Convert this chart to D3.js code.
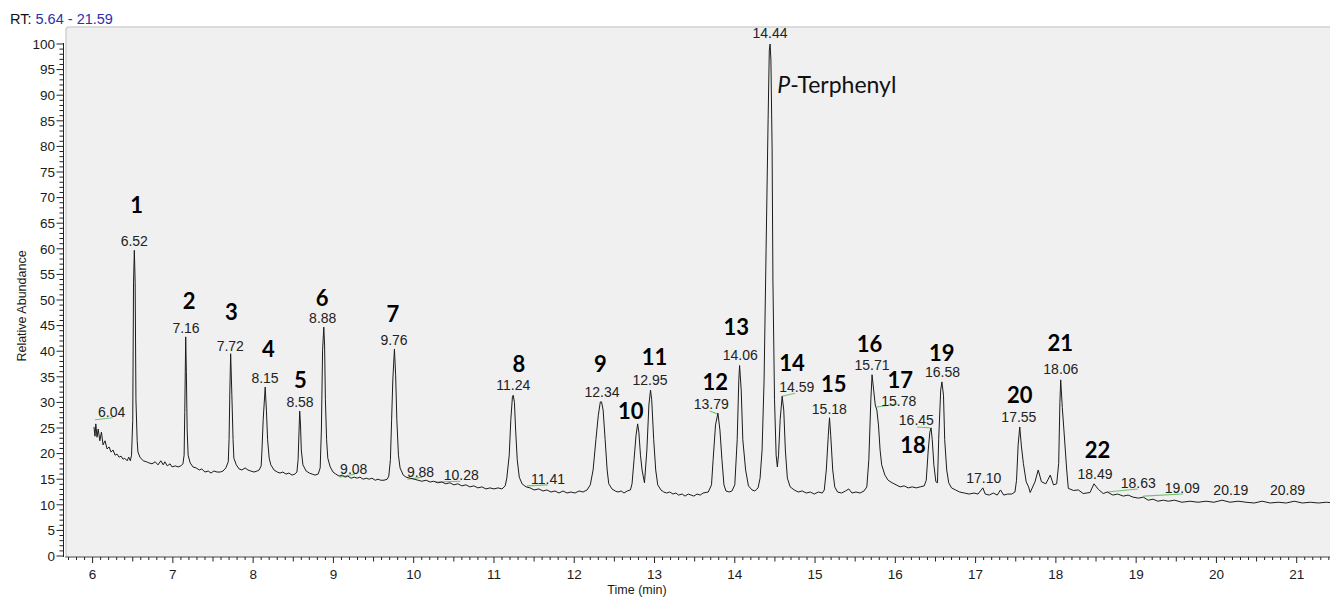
<!DOCTYPE html>
<html><head><meta charset="utf-8">
<script src="https://cdn.jsdelivr.net/npm/d3@7"></script>
<style>
html,body{margin:0;padding:0;background:#fff;}
svg{display:block;}
text{font-family:"Liberation Sans",Arial,sans-serif;}
</style></head>
<body>
<svg id="chart" width="1330" height="598"></svg>
<script>
// ---- data ----
const rtRange = "5.64 - 21.59";
const xTickLabels = [6,7,8,9,10,11,12,13,14,15,16,17,18,19,20,21];
const yTickLabels = [0,5,10,15,20,25,30,35,40,45,50,55,60,65,70,75,80,85,90,95,100];
const xTitle = "Time (min)";
const yTitle = "Relative Abundance";

// chromatogram trace [time (min), relative abundance]
const trace = [
[6.017,25.2],[6.03,23.4],[6.04,25.8],[6.055,23.2],[6.07,24.8],[6.09,22.5],[6.11,24.2],[6.13,21.7],[6.155,22.5],[6.18,20.9],[6.205,21.3],[6.23,20.3],[6.255,20.7],[6.28,19.7],[6.305,19.9],[6.33,19.3],[6.355,19.5],[6.38,18.9],[6.40,19.1],[6.43,18.6],[6.45,19.3],[6.47,18.6],[6.485,19.7],
[6.50,26.5],[6.51,53.5],[6.52,59.7],[6.53,53.5],[6.535,42],[6.54,30.5],[6.555,22.6],[6.565,20.3],[6.59,19.3],[6.63,18.6],[6.67,18.4],[6.70,18.2],[6.74,18.0],[6.78,18.4],[6.815,17.8],[6.85,18.6],[6.88,17.8],[6.90,18.4],[6.93,17.6],[6.965,18.0],[6.99,17.4],[7.03,17.6],[7.065,17.4],[7.10,17.6],[7.125,18],[7.14,19.7],
[7.148,28],[7.16,42.8],[7.168,36],[7.178,24.6],[7.19,19.7],[7.215,18.2],[7.25,17.4],[7.29,17.2],[7.33,16.8],[7.36,17],[7.40,16.4],[7.44,16.6],[7.475,16.2],[7.51,16.6],[7.55,16.4],[7.59,16.4],[7.625,16.6],[7.66,17.2],[7.69,18.4],[7.70,22.7],[7.71,32.4],[7.72,39.5],[7.735,31.4],[7.75,22.7],[7.76,19.1],[7.79,17.8],[7.825,17],[7.86,16.8],[7.90,17.2],[7.935,16.8],[7.97,16.6],[8.01,16.4],[8.05,16.6],[8.075,16.8],[8.10,17.6],[8.11,20.7],[8.125,26.6],[8.15,33.0],[8.165,28.5],[8.18,22.7],[8.20,19.1],[8.22,17.8],[8.26,16.8],[8.30,16.4],[8.335,16.2],[8.37,16.4],[8.41,16.0],[8.445,16.2],[8.485,15.8],[8.52,16],[8.545,16.4],[8.56,18.8],[8.572,24.6],[8.58,28.3],[8.59,25.6],[8.60,20.7],[8.62,17.8],[8.66,16.6],[8.70,16.2],[8.735,16],[8.77,15.8],[8.81,16],[8.835,17.2],[8.85,24.6],[8.865,40.2],[8.88,44.7],[8.89,41.2],[8.90,30.5],[8.915,22.7],[8.93,19.1],[8.96,17.4],[8.995,16.4],[9.03,16],[9.07,15.6],[9.11,15.8],[9.145,15.4],[9.18,15.6],[9.22,15.2],[9.26,15.4],[9.295,15.2],[9.33,15.4],[9.37,15],[9.41,15.2],[9.445,15],[9.48,15.2],[9.52,14.8],[9.555,15],[9.59,14.8],[9.63,14.8],[9.67,15],[9.69,15.6],[9.71,18.8],[9.725,26.6],[9.74,34.4],[9.76,40.4],[9.775,35.4],[9.79,26.6],[9.81,19.7],[9.83,17.2],[9.87,15.8],[9.905,15.4],[9.955,15.2],[10.005,15],[10.055,14.8],[10.10,14.6],[10.155,14.8],[10.205,14.45],[10.25,14.6],[10.30,14.3],[10.35,14.45],[10.40,14.1],[10.45,14.3],[10.50,13.9],[10.55,14.1],[10.60,13.7],[10.65,13.9],[10.70,13.5],[10.75,13.7],[10.80,13.3],[10.85,13.5],[10.90,13.1],[10.95,13.3],[11.00,13.1],[11.05,13.3],[11.10,13.1],[11.14,13.7],[11.16,15.2],[11.19,19.7],[11.21,26.6],[11.23,31.1],[11.24,31.4],[11.255,30],[11.27,24.6],[11.29,18.8],[11.315,15.4],[11.35,14.1],[11.40,13.5],[11.45,13.3],[11.50,12.9],[11.56,13.1],[11.61,12.7],[11.66,12.9],[11.71,12.5],[11.76,12.7],[11.81,12.3],[11.86,12.7],[11.91,12.3],[11.96,12.5],[12.01,12.3],[12.06,12.7],[12.11,12.5],[12.16,12.9],[12.20,13.9],[12.235,16.8],[12.27,22.7],[12.30,27.5],[12.325,30.1],[12.34,30.1],[12.36,28.5],[12.385,22.7],[12.41,16.8],[12.43,14.1],[12.47,13.1],[12.51,12.7],[12.545,12.5],[12.585,12.7],[12.62,12.3],[12.66,12.7],[12.70,12.9],[12.72,14.1],[12.745,18.8],[12.77,23.6],[12.79,25.8],[12.805,24.2],[12.825,19.7],[12.845,16.8],[12.875,14.3],[12.905,20.7],[12.93,29.5],[12.95,32.4],[12.965,30.5],[12.99,22.7],[13.015,16.8],[13.04,13.9],[13.08,12.9],[13.115,12.5],[13.15,12.3],[13.19,12.5],[13.23,12.1],[13.265,12.3],[13.30,11.9],[13.345,12.1],[13.38,11.7],[13.42,12.1],[13.455,11.9],[13.49,11.7],[13.53,12.1],[13.57,11.9],[13.605,12.3],[13.67,12.5],[13.71,13.9],[13.73,18.8],[13.76,25.6],[13.79,27.9],[13.815,24.6],[13.84,18.8],[13.865,13.9],[13.89,12.7],[13.93,12.5],[13.965,12.7],[14.00,13.9],[14.03,22.7],[14.05,34.4],[14.06,37.2],[14.08,32.4],[14.10,22.7],[14.135,16.8],[14.17,13.7],[14.215,12.9],[14.25,12.7],[14.29,13.3],[14.315,15.2],[14.34,20.7],[14.365,34.4],[14.39,59.8],[14.415,85.2],[14.43,98.8],[14.44,100],[14.45,96.9],[14.465,79.3],[14.475,53.9],[14.495,30.5],[14.515,19.7],[14.53,17.4],[14.545,19.7],[14.565,26.6],[14.59,31.2],[14.61,28.5],[14.63,20.7],[14.655,15.2],[14.69,13.5],[14.74,12.9],[14.79,12.5],[14.84,12.7],[14.89,12.3],[14.94,12.5],[14.99,12.1],[15.04,12.5],[15.09,12.3],[15.115,12.9],[15.14,16.8],[15.165,23.6],[15.18,27],[15.195,23.6],[15.22,16.8],[15.245,13.5],[15.28,12.5],[15.33,12.3],[15.38,12.7],[15.42,13.1],[15.46,12.3],[15.51,12.5],[15.56,12.3],[15.61,12.7],[15.645,13.5],[15.67,18.8],[15.695,30.5],[15.71,35.4],[15.73,32.4],[15.75,29.5],[15.77,28.5],[15.79,25.6],[15.81,20.7],[15.83,17.8],[15.87,15.8],[15.91,14.8],[15.96,14.3],[16.01,13.9],[16.06,13.5],[16.11,13.7],[16.16,13.3],[16.21,13.5],[16.26,13.3],[16.31,13.5],[16.36,13.7],[16.385,14.8],[16.41,20.7],[16.43,24.2],[16.445,25],[16.46,22.7],[16.48,17.8],[16.505,14.5],[16.525,14.3],[16.54,22.7],[16.565,32.4],[16.58,34],[16.60,31.4],[16.615,22.7],[16.64,16.8],[16.665,14.3],[16.70,13.3],[16.75,12.9],[16.80,12.5],[16.86,12.3],[16.92,12.1],[16.98,12.3],[17.03,12.1],[17.09,13.3],[17.12,12.1],[17.17,11.9],[17.22,12.3],[17.27,11.9],[17.31,12.9],[17.35,11.9],[17.40,12.1],[17.45,12.1],[17.49,12.5],[17.51,14.8],[17.53,21.7],[17.55,25.2],[17.57,21.5],[17.595,18.1],[17.63,14.5],[17.66,13.5],[17.68,12.4],[17.74,14.5],[17.78,16.8],[17.82,14.5],[17.875,14.1],[17.93,15.8],[17.97,13.9],[18.01,14.1],[18.035,18.1],[18.05,30],[18.06,34.4],[18.08,29],[18.10,24.6],[18.135,16.8],[18.155,13.2],[18.22,12.8],[18.28,12.9],[18.34,12.2],[18.425,12.4],[18.475,14.1],[18.53,13],[18.59,12.2],[18.64,12.5],[18.71,11.9],[18.77,12.1],[18.84,11.7],[18.90,11.9],[18.96,11.5],[19.03,11.3],[19.09,11.5],[19.15,10.9],[19.21,11.1],[19.27,10.7],[19.34,10.9],[19.40,10.7],[19.48,10.9],[19.57,10.5],[19.67,10.7],[19.77,10.5],[19.87,10.7],[19.97,10.5],[20.07,10.9],[20.17,10.5],[20.27,10.7],[20.37,10.5],[20.47,10.35],[20.57,10.7],[20.67,10.35],[20.77,10.5],[20.87,10.35],[20.97,10.7],[21.07,10.35],[21.17,10.5],[21.27,10.35],[21.37,10.5],[21.47,10.35],[21.57,10.35]
];

// retention-time labels: [text, time at label centre, abundance at label baseline]
const rtLabels = [
["6.04",6.237,27.15],["6.52",6.519,60.55],["7.16",7.164,43.6],["7.72",7.715,40.1],["8.15",8.148,33.85],
["8.58",8.584,29.16],["8.88",8.867,45.45],["9.76",9.755,41.2],["9.08",9.253,16.0],["9.88",10.085,15.37],
["10.28",10.593,14.84],["11.24",11.241,32.4],["11.41",11.673,14.06],["12.34",12.346,31.0],["12.95",12.944,33.4],
["13.79",13.707,28.65],["14.06",14.069,38.3],["14.44",14.439,101.1],["14.59",14.772,32.1],["15.18",15.178,27.7],
["15.71",15.71,36.3],["15.78",16.043,29.3],["16.45",16.262,25.6],["16.58",16.588,35.0],["17.10",17.101,14.3],
["17.55",17.539,26.2],["18.06",18.062,35.5],["18.49",18.488,15.0],["18.63",19.027,13.3],["19.09",19.575,12.25],
["20.19",20.18,11.9],["20.89",20.886,11.9]
];

// integration baselines: [t1, v1, t2, v2]
const baselines = [
[6.03,26.6,6.25,27.0],[9.08,15.4,9.27,16.0],[9.92,15.0,10.11,15.4],[10.27,14.45,10.58,14.6],
[11.41,13.7,11.67,13.9],[13.69,28.3,13.79,27.7],[14.59,31.2,14.75,31.8],[15.77,29.1,16.03,29.7],
[16.27,25.2,16.45,25.0],[18.64,12.5,19.02,13.1],[19.09,11.7,19.58,12.1]
];

// peak numbers: [text, time at label centre, abundance at label baseline]
const peakNumbers = [
["1",6.549,67.0],["2",7.203,48.24],["3",7.730,46.1],["4",8.189,38.8],["5",8.588,32.75],["6",8.860,48.83],
["7",9.742,45.76],["8",11.31,36.0],["9",12.325,36.0],["10",12.705,26.7],["11",13.0,37.3],["12",13.758,32.4],
["13",14.019,43.16],["14",14.713,36.2],["15",15.233,31.97],["16",15.679,39.9],["17",16.06,32.9],["18",16.22,20.06],
["19",16.578,38.14],["20",17.551,29.82],["21",18.056,40.1],["22",18.519,19.08]
];
// internal standard label: [prefix (italic), rest, time at left edge, abundance at baseline]
const standardLabel = ["P", "-Terphenyl", 14.53, 90.5];

// ---- drawing ----
const W = 1330, H = 598;
const svg = d3.select("#chart");
const x = d3.scaleLinear().domain([6, 21]).range([92.6, 1296.7]);
const y = d3.scaleLinear().domain([0, 100]).range([556, 44]);
const frameLeft = 66, frameTop = 27, axisY = 557, axisX = 63.5;

svg.append("rect").attr("width", W).attr("height", H).attr("fill", "#fff");

// plot frame
svg.append("rect").attr("x", frameLeft).attr("y", frameTop)
  .attr("width", W - frameLeft + 20).attr("height", axisY - frameTop)
  .attr("rx", 3).attr("fill", "#f0f0f0").attr("stroke", "#d2d2d2").attr("stroke-width", 1.5);

// header
const hdr = svg.append("text").attr("x", 10).attr("y", 24).attr("font-size", "14.5px");
hdr.append("tspan").attr("fill", "#111").text("RT: ");
hdr.append("tspan").attr("fill", "#2e2eb0").text(rtRange);

// clip
svg.append("clipPath").attr("id", "clip").append("rect")
  .attr("x", frameLeft).attr("y", 0).attr("width", W - frameLeft).attr("height", axisY);

// integration baselines
svg.append("g").attr("clip-path", "url(#clip)").selectAll("line").data(baselines).join("line")
  .attr("x1", d => x(d[0])).attr("y1", d => y(d[1]))
  .attr("x2", d => x(d[2])).attr("y2", d => y(d[3]))
  .attr("stroke", "#6cc56c").attr("stroke-width", 1.1);

// trace
const line = d3.line().x(d => x(d[0])).y(d => y(d[1]));
svg.append("path").datum(trace).attr("clip-path", "url(#clip)")
  .attr("d", line).attr("fill", "none").attr("stroke", "#1c1c1c")
  .attr("stroke-width", 1).attr("stroke-linejoin", "round");

// x axis
svg.append("line").attr("x1", frameLeft - 1).attr("x2", W).attr("y1", axisY).attr("y2", axisY)
  .attr("stroke", "#8a8a8a").attr("stroke-width", 1.6);
const xMinor = d3.range(57, 216).map(i => i / 10).filter(t => x(t) > frameLeft && x(t) < W);
svg.append("g").selectAll("line").data(xMinor).join("line")
  .attr("x1", d => x(d)).attr("x2", d => x(d))
  .attr("y1", axisY)
  .attr("y2", d => Math.abs(d - Math.round(d)) < 1e-6 ? axisY + 6 : (Math.abs(d * 2 - Math.round(d * 2)) < 1e-6 ? axisY + 4.5 : axisY + 3))
  .attr("stroke", "#222").attr("stroke-width", 1);
svg.append("g").selectAll("text").data(xTickLabels).join("text")
  .attr("x", d => x(d)).attr("y", 579).attr("text-anchor", "middle")
  .attr("font-size", "13.5px").attr("fill", "#1a1a1a").text(d => d);

// y axis
svg.append("line").attr("x1", axisX).attr("x2", axisX).attr("y1", y(100) - 1).attr("y2", y(0) + 1)
  .attr("stroke", "#222").attr("stroke-width", 1);
const yMinor = d3.range(0, 101);
svg.append("g").selectAll("line").data(yMinor).join("line")
  .attr("x1", d => d % 5 === 0 ? axisX - 7 : axisX - 4).attr("x2", axisX)
  .attr("y1", d => y(d)).attr("y2", d => y(d))
  .attr("stroke", "#222").attr("stroke-width", 1);
svg.append("g").selectAll("text").data(yTickLabels).join("text")
  .attr("x", 55).attr("y", d => y(d)).attr("dy", "0.36em").attr("text-anchor", "end")
  .attr("font-size", "13.5px").attr("fill", "#1a1a1a").text(d => d);

// axis titles
svg.append("text").attr("x", 637).attr("y", 594).attr("text-anchor", "middle")
  .attr("font-size", "12.5px").attr("fill", "#1a1a1a").text(xTitle);
svg.append("text").attr("transform", "translate(26,306) rotate(-90)").attr("text-anchor", "middle")
  .attr("font-size", "12.5px").attr("fill", "#1a1a1a").text(yTitle);

// RT labels
svg.append("g").selectAll("text").data(rtLabels).join("text")
  .attr("x", d => x(d[1])).attr("y", d => y(d[2])).attr("text-anchor", "middle")
  .attr("font-size", "14px").attr("fill", "#222").text(d => d[0]);

// peak numbers
svg.append("g").selectAll("text").data(peakNumbers).join("text")
  .attr("x", d => x(d[1])).attr("y", d => y(d[2])).attr("text-anchor", "middle")
  .style("font-family", "Lato, 'Open Sans', sans-serif").attr("font-weight", "bold")
  .attr("font-size", "22px").attr("fill", "#000").text(d => d[0]);

// internal standard
const st = svg.append("text").attr("x", x(standardLabel[2])).attr("y", y(standardLabel[3]))
  .style("font-family", "Lato, 'Open Sans', sans-serif").attr("font-size", "23px").attr("fill", "#111");
st.append("tspan").attr("font-style", "italic").text(standardLabel[0]);
st.append("tspan").text(standardLabel[1]);
</script>
</body></html>
